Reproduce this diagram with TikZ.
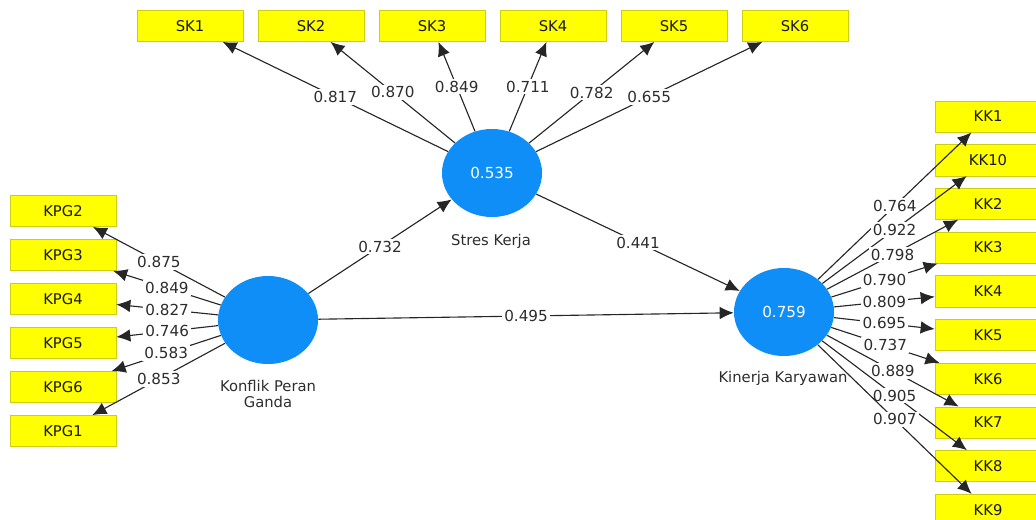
\documentclass[tikz,border=0pt]{standalone}
\usepackage{fontspec}
\setmainfont{DejaVu Sans}
\usetikzlibrary{arrows.meta,shapes.geometric,positioning}
\definecolor{indyellow}{RGB}{255,255,0}
\definecolor{indborder}{RGB}{205,205,20}
\definecolor{latblue}{RGB}{14,142,246}
\definecolor{lbltext}{RGB}{45,45,45}
\tikzset{
  ind/.style={draw=indborder, fill=indyellow, minimum width=2.65cm, minimum height=0.78cm,
    inner sep=0pt, text=black!90, font=\fontsize{10.5}{12}\selectfont},
  lat/.style={ellipse, fill=latblue, minimum width=2.5cm, minimum height=2.2cm,
    inner sep=0pt, text=white, font=\fontsize{10.8}{12}\selectfont},
  conn/.style={draw=black!85, line width=0.8pt, -{Latex[length=10pt,width=9pt]}},
  wt/.style={fill=white, inner sep=1.5pt, pos=0.5, text=lbltext, font=\fontsize{10.8}{12}\selectfont},
  latname/.style={text=lbltext, align=center, font=\fontsize{10.5}{11.5}\selectfont}
}
\begin{document}
\begin{tikzpicture}[x=0.025cm,y=-0.025cm]
\useasboundingbox (0,0) rectangle (1036,519);
\clip (0,0) rectangle (1036,519);
% latent variables
\node[lat] (sk) at (492,173) {0.535};
\node[lat] (kpg) at (268,320) {};
\node[lat] (kk) at (784,312) {0.759};
\node[latname] (skname) at (491,241) {Stres Kerja};
\node[latname] (kpgname) at (268,394) {Konflik Peran\\Ganda};
\node[latname] (kkname) at (783,378) {Kinerja Karyawan};
% indicators
\foreach \i in {1,...,6}
  \node[ind] (sk\i) at ({190+121*(\i-1)},26) {SK\i};
\foreach \n [count=\i] in {2,3,4,5,6,1}
  \node[ind] (kpg\n) at (63,{211+44*(\i-1)}) {KPG\n};
\foreach \n [count=\i] in {1,10,2,3,4,5,6,7,8,9}
  \node[ind] (kk\n) at (988,{116.5+43.7*(\i-1)}) {KK\n};
% outer loadings
\foreach \i/\w in {1/0.817,2/0.870,3/0.849,4/0.711,5/0.782,6/0.655}
  \draw[conn] (sk) -- node[wt] {\w} (sk\i);
\foreach \n/\w in {2/0.875,3/0.849,4/0.827,5/0.746,6/0.583,1/0.853}
  \draw[conn] (kpg) -- node[wt] {\w} (kpg\n);
\foreach \n/\w in {1/0.764,10/0.922,2/0.798,3/0.790,4/0.809,5/0.695,6/0.737,7/0.889,8/0.905,9/0.907}
  \draw[conn] (kk) -- node[wt] {\w} (kk\n);
% path coefficients
\draw[conn] (kpg) -- node[wt] {0.732} (sk);
\draw[conn] (sk) -- node[wt] {0.441} (kk);
\draw[conn] (kpg) -- node[wt] {0.495} (kk);
\end{tikzpicture}
\end{document}
